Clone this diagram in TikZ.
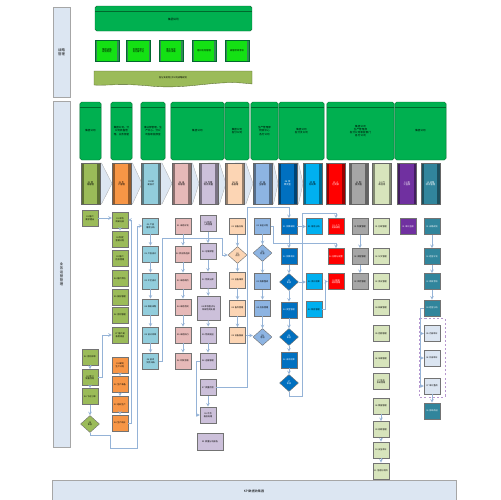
\documentclass[tikz,border=0pt]{standalone}
\usepackage{fontspec}
\setmainfont{Noto Sans CJK SC}
\XeTeXlinebreaklocale "zh"
\XeTeXlinebreakskip=0pt plus 0.05pt
\usetikzlibrary{shapes.geometric,arrows}

\definecolor{lnc}{RGB}{149,179,215}
\definecolor{lanef}{RGB}{220,230,242}
\definecolor{laned}{RGB}{166,166,166}
\definecolor{grpf}{RGB}{0,176,80}
\definecolor{grpd}{RGB}{0,105,45}
\definecolor{subf}{RGB}{20,225,20}
\definecolor{olv}{RGB}{155,187,89}
\definecolor{org}{RGB}{247,150,70}
\definecolor{lbl}{RGB}{146,205,220}
\definecolor{pnk}{RGB}{230,185,184}
\definecolor{lav}{RGB}{204,192,218}
\definecolor{pch}{RGB}{252,213,180}
\definecolor{cfb}{RGB}{141,180,226}
\definecolor{dkb}{RGB}{0,112,192}
\definecolor{sky}{RGB}{0,176,240}
\definecolor{rd}{RGB}{255,0,0}
\definecolor{gry}{RGB}{166,166,166}
\definecolor{plg}{RGB}{215,228,188}
\definecolor{prp}{RGB}{112,48,160}
\definecolor{tel}{RGB}{49,133,156}
\definecolor{tlg}{RGB}{219,229,241}

\tikzset{
  lane/.style={draw=laned, line width=1.3pt, fill=lanef, align=center,
    font=\fontsize{4.8}{5.8}\selectfont},
  grp/.style={draw=grpd, fill=grpf, rounded corners=2.5pt, line width=0.6pt,
    align=center, font=\fontsize{3.6}{4.4}\selectfont,
    path picture={\draw[grpd, line width=0.6pt]
      ([yshift=-0.25cm]path picture bounding box.north west) --
      ([yshift=-0.25cm]path picture bounding box.north east);}},
  subbox/.style={draw=grpd, fill=subf, line width=0.6pt, minimum width=1.2cm,
    minimum height=1.05cm, text width=0.85cm, align=center, inner sep=0.5pt,
    font=\fontsize{3.2}{3.8}\selectfont,
    path picture={\fill[grpd!80]
      (path picture bounding box.north west) rectangle
      ([xshift=0.09cm]path picture bounding box.south west);
      \fill[grpd!80] (path picture bounding box.north east) rectangle
      ([xshift=-0.09cm]path picture bounding box.south east);}},
  stp/.style={draw=black!60, fill=#1, line width=0.5pt, minimum width=0.95cm,
    minimum height=2.05cm, text width=0.55cm, align=center, inner sep=0.5pt,
    font=\fontsize{3.2}{3.8}\selectfont,
    path picture={\fill[#1!60!black]
      (path picture bounding box.north west) rectangle
      ([xshift=0.13cm]path picture bounding box.south west);
      \fill[#1!60!black] (path picture bounding box.north east) rectangle
      ([xshift=-0.13cm]path picture bounding box.south east);}},
  chev/.style={fill=lanef, draw=black!35, line width=0.4pt},
  fb/.style={draw=black!55, fill=#1, line width=0.6pt, minimum width=0.8cm,
    minimum height=0.82cm, text width=0.7cm, inner sep=0.4pt, align=center,
    font=\fontsize{3}{3.5}\selectfont},
  dm/.style={diamond, draw=black!55, fill=#1, line width=0.6pt,
    minimum width=0.95cm, minimum height=0.85cm, inner sep=0pt, align=center,
    font=\fontsize{3}{3.5}\selectfont},
  arr/.style={draw=lnc, line width=1.2pt, -stealth},
}

\begin{document}
\begin{tikzpicture}[x=0.05cm, y=-0.05cm]
\useasboundingbox (0,0) rectangle (500,500);

% swim lanes
\node[lane, minimum width=0.85cm, minimum height=4.5cm] (lanetop) at (61.5,52) {战略\\管理};
\node[lane, minimum width=0.85cm, minimum height=17.3cm] (lanebiz) at (61.5,274) {业\\务\\运\\营\\管\\理};
\node[lane, minimum width=20.2cm, minimum height=1.1cm, font=\fontsize{4.4}{5.2}\selectfont] (kpi) at (254,491.5) {KPI数据收集器};

% strategy level
\node[grp, minimum width=7.85cm, minimum height=1.25cm, font=\fontsize{3.8}{4.6}\selectfont] (hq) at (173.5,18.5) {\\集团公司};
\foreach \n/\x/\t in {1/107/集团战略规划制定, 2/138.5/年度经营计划分解下达, 3/171/重大投资项目决策, 4/204/组织机构管理, 5/237/高管绩效考核}
  \node[subbox] (sub\n) at (\x,50.5) {\t};
\draw[fill=olv, draw=olv!55!black, line width=0.5pt] (94,71) -- (252,71) -- (252,84)
  .. controls (215,79) and (190,90) .. (150,86) .. controls (120,83) and (105,86) .. (94,85) -- cycle;
\node[font=\fontsize{3.2}{3.8}\selectfont] (plan) at (173,77.5) {各分支机构/子公司战略规划};

% owners
\foreach \n/\x/\w/\t in {1/90.5/19/集团公司,
  2/121.5/19/{集团公司、分公司装备管理、业务部室},
  3/153/22/{事业部管理、生产中心、分公司各职能部室},
  4/197.5/51/集团公司,
  5/237/22/{集团公司\\各分公司},
  6/264.5/25/{生产管理部\\物资中心\\各分公司},
  7/301.5/43/{集团公司\\各分支公司},
  8/360.5/65/{集团公司\\生产管理部\\各分公司职能部门\\各分公司},
  9/420.5/49/集团公司}
{
  \pgfmathsetmacro\ww{\w*0.05}
  \pgfmathsetmacro\tw{\w*0.05-0.12}
  \node[grp, minimum width=\ww cm, minimum height=2.9cm, text width=\tw cm] (grp\n) at (\x,131) {\t};
}

% process chevrons
\foreach \x/\tip in {90.5/112, 121.5/142, 151/172, 181.5/199, 208.5/226, 235/253, 262.5/278, 287.5/303}
  \filldraw[chev] (\x,163) -- (\x+11,163) -- (\tip,183.5) -- (\x+11,204) -- (\x,204) -- cycle;
\foreach \n/\x/\c/\tc/\t in {1/90.5/olv/black/{01 营销管理}, 2/121.5/org/black/{02 生产管理},
  3/151/lbl/black/{03 研发设计}, 4/181.5/pnk/black/{04 采购管理}, 5/208.5/lav/black/{05 仓储物流质量},
  6/235/pch/black/{06 设备管理}, 7/262.5/cfb/black/{07 安全管理}, 8/287.5/dkb/white/{08 预算资金},
  9/312.5/sky/black/{09 财务核算}, 10/335.5/rd/white/{10 人力资源}, 11/358.5/gry/black/{11 制度流程},
  12/382/plg/black/{12 行政信息}, 13/407/prp/white/{13 审计监察}, 14/430.5/tel/white/{14 战略绩效管理}}
  \node[stp=\c, text=\tc] (pr\n) at (\x,183.5) {\t};

% flow boxes
\node[fb=olv] (o1) at (90,218) {01 客户需求提出};
\foreach \n/\y/\t in {2/357/{02 合同评审}, 3/377.5/{03 签订销售合同}, 4/396.5/{04 下达订单}}
  \node[fb=olv] (o\n) at (90,\y) {\t};
\node[dm=olv] (od) at (90,424) {05\\审批};
\foreach \n/\y/\t in {1/220/{01 市场调研分析}, 2/239/{02 制定营销计划}, 3/258/{03 客户信息管理},
  4/278.5/{04 客户拜访}, 5/297/{05 投标管理}, 6/315/{06 合同管理}, 7/335/{07 客户满意度调查}}
  \node[fb=olv] (g\n) at (120,\y) {\t};
\foreach \n/\y/\t in {1/365/{01 编制生产计划}, 2/384.5/{02 生产准备}, 3/404.5/{03 组织生产}, 4/423/{04 生产统计}}
  \node[fb=org] (r\n) at (120,\y) {\t};
\foreach \n/\y/\t in {1/226/{01 产品需求分析}, 2/254/{02 产品设计}, 3/281/{03 工艺设计},
  4/307/{04 样机试制}, 5/335/{05 设计评审}, 6/361/{06 技术文件归档}}
  \node[fb=lbl] (b\n) at (150.5,\y) {\t};
\foreach \n/\y/\t in {1/226/{01 采购计划}, 2/254/{02 供应商选择}, 3/281/{03 采购询价},
  4/307/{04 采购合同}, 5/335/{05 采购执行}, 6/361/{06 到货验收}}
  \node[fb=pnk] (k\n) at (183,\y) {\t};
\foreach \n/\y/\t in {1/223.5/{01 物资入库管理}, 2/251.5/{02 仓储保管}, 3/280/{03 物资出库},
  5/335/{05 物流配送}, 6/361/{06 运输管理}, 7/387.5/{07 质量检验}, 8/415/{08 不合格品处理}}
  \node[fb=lav] (l\n) at (208,\y) {\t};
\node[fb=lav, minimum width=1.15cm, minimum height=1.2cm, text width=1.05cm] (l4) at (208.5,308) {04 库存盘点与呆滞物资处理};
\node[fb=lav, minimum width=1.3cm, minimum height=0.85cm, text width=1.2cm] (l9) at (210,441.5) {09 质量分析报告};
\node[fb=pch] (p1) at (237.5,226.5) {01 设备台账};
\node[dm=pch] (pd) at (237.5,255) {02\\点检};
\foreach \n/\y/\t in {2/280/{03 设备维修}, 3/308/{04 备件管理}, 4/335.5/{05 设备报废}}
  \node[fb=pch] (p\n) at (237.5,\y) {\t};
\node[fb=cfb] (c1) at (262.5,226) {01 安全计划};
\node[dm=cfb] (cd1) at (262.5,253) {02\\检查};
\node[fb=cfb] (c2) at (262.5,281.5) {03 隐患整改};
\node[fb=cfb] (c3) at (262.5,308) {04 应急管理};
\node[dm=cfb] (cd2) at (262.5,337) {05\\考核};
\node[fb=dkb, text=white] (d1) at (289,226.5) {01 预算编制};
\node[fb=dkb, text=white] (d2) at (289,256.5) {02 预算审批};
\node[dm=dkb, text=white] (dd1) at (289,282) {03\\审核};
\node[fb=dkb, text=white] (d3) at (289,310) {04 资金管理};
\node[dm=dkb, text=white] (dd2) at (289,337) {05\\审批};
\node[fb=dkb, text=white] (d4) at (289,360) {06 成本核算};
\node[dm=dkb, text=white] (dd3) at (289,383) {07\\审核};
\foreach \n/\y/\t in {1/226.5/{01 财务分析}, 2/281.5/{02 会计核算}, 3/309.5/{03 税务管理}}
  \node[fb=sky] (s\n) at (314,\y) {\t};
\foreach \n/\y/\t in {1/226.5/{01 人力资源规划}, 2/256.5/{02 招聘与配置}, 3/281.5/{03 薪酬绩效管理}}
  \node[fb=rd, text=white] (e\n) at (336,\y) {\t};
\foreach \n/\y/\t in {1/226.5/{01 制度管理}, 2/256.5/{02 流程管理}, 3/281.5/{03 风险管理}}
  \node[fb=gry] (y\n) at (360,\y) {\t};
\foreach \n/\y/\t in {1/226.5/{01 行政管理}, 2/256.5/{02 公文管理}, 3/281.5/{03 会议管理},
  4/307.5/{04 档案管理}, 5/333.5/{05 后勤管理}, 6/359/{06 车辆管理}, 7/381.5/{07 信息系统管理},
  8/406/{08 数据管理}, 9/429.5/{09 网络管理}, 10/450/{10 安全审计}, 11/471/{11 信息化项目}}
  \node[fb=plg] (n\n) at (381,\y) {\t};
\node[fb=prp, text=white] (u1) at (408,226.5) {01 审计监察};
\foreach \n/\y/\t in {1/226.5/{01 战略规划}, 2/256.5/{02 经营计划}, 3/281.5/{03 绩效考核}, 4/308/{04 经营分析}}
  \node[fb=tel, text=white] (t\n) at (432,\y) {\t};
\draw[dashed, draw=prp!50, line width=0.8pt] (419,318) rectangle (445,397);
\foreach \n/\y/\t in {1/333.5/{05 内部审计}, 2/358/{06 外部审计}, 3/386/{07 审计整改}}
  \node[fb=tlg] (w\n) at (432,\y) {\t};
\node[fb=tel, text=white] (t5) at (432,411) {08 持续改进};

% connectors
\foreach \a/\b in {o2/o3,o3/o4,o4/od,g1/g2,r1/r2,r2/r3,r3/r4,b1/b2,b2/b3,b3/b4,b4/b5,b5/b6,
  k1/k2,k2/k3,k3/k4,k4/k5,k5/k6,l1/l2,l2/l3,l3/l4,l4/l5,l5/l6,l7/l8,p1/pd,pd/p2,p2/p3,p3/p4,
  c1/cd1,cd1/c2,c2/c3,c3/cd2,d1/d2,d2/dd1,dd1/d3,d3/dd2,dd2/d4,d4/dd3,y1/y2,y2/y3,
  n8/n9,n9/n10,n10/n11,t1/t2,t2/t3,t3/t4,w3/t5}
  \draw[arr] (\a) -- (\b);
\draw[arr] (o1.east) -- (o1.east -| g1.west);
\draw[arr] (od.south) |- (110,435) |- (137,448) |- (b1.west);
\draw[arr] (o3.east) -- ++(4,0) |- (g7.west);
\draw[arr] (r4.east) -- ++(3,0) |- (g1.east);
\draw[arr] (b6.east) -- ++(4,0) |- (222,238) |- (pd.west);
\draw[arr] (l6.west) -- ++(-3,0) |- (l8.west);
\draw[arr] (l7.east) -| (247,207) -| (d1.north);
\draw[arr] (p4.east) -- (p4.east -| cd2.west);
\draw[arr] (c1.east) -- ++(3,0) |- (336,243) -- (e2.north);
\draw[arr] (d1) -- (s1);
\draw[arr] (dd1.east) -- (dd1.east -| s2.west);
\draw[arr] (s3.east) -- ++(3,0) |- (e3.west);
\draw[arr] (dd3.south) |- (302,396) |- (336,213) -- (e1.north);
\draw[arr] (t4.west) -- ++(-3,0) |- (w1.west);
\draw[arr] (t4.west) -- ++(-3,0) |- (w2.west);
\draw[arr] (t4.west) -- ++(-3,0) |- (w3.west);
\end{tikzpicture}
\end{document}
